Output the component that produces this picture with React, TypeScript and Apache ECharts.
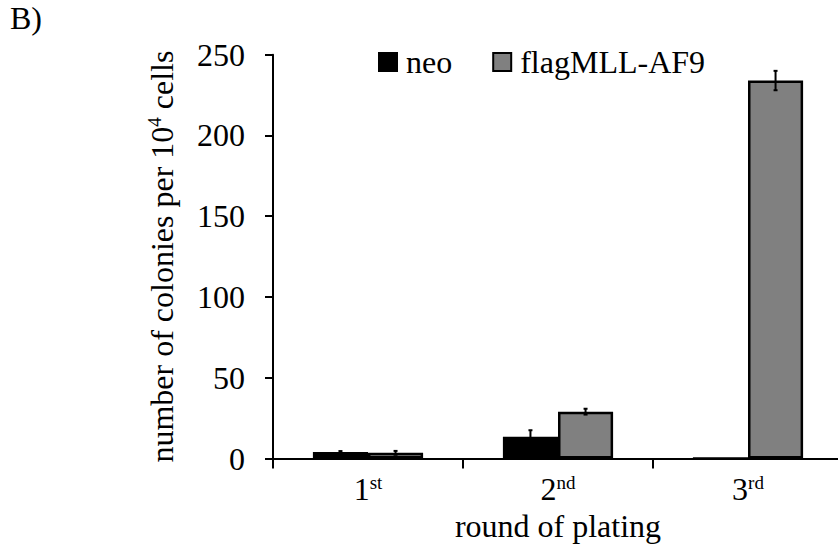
import React, { useEffect, useRef } from "react";
import * as echarts from "echarts";

const categories = ["1st", "2nd", "3rd"];
const seriesNames = ["neo", "flagMLL-AF9"];
const neoValues = [4, 13.5, 0];
const neoErrors = [0.6, 4, 0];
const mllValues = [3.5, 29, 234];
const mllErrors = [1.2, 1.8, 6];
const yTicks = { min: 0, max: 250, interval: 50 };

const FONT = "'Liberation Serif', 'Times New Roman', serif";
const FS = 32;
const SUP = 19;
const BAR_FRACTION = 0.29;

export default function App() {
  const ref = useRef<HTMLDivElement>(null);
  useEffect(() => {
    if (!ref.current) return;
    const chart = echarts.init(ref.current, null, { renderer: "svg" });

    const errData = (vals: number[], errs: number[]) =>
      vals.map((v, i) => [i, v, errs[i]]);

    const makeErr = (sign: number) => (params: any, api: any) => {
      const cat = api.value(0);
      const val = api.value(1);
      const err = api.value(2);
      if (!err) return null;
      const band = api.size([1, 0])[0];
      const dx = (sign * band * BAR_FRACTION) / 2;
      const top = api.coord([cat, val + err]);
      const bot = api.coord([cat, val - err]);
      const x = top[0] + dx;
      const style = { stroke: "#000", lineWidth: 2 };
      return {
        type: "group",
        children: [
          { type: "line", shape: { x1: x, y1: top[1], x2: x, y2: bot[1] }, style },
          { type: "line", shape: { x1: x - 2, y1: top[1], x2: x + 2, y2: top[1] }, style },
          { type: "line", shape: { x1: x - 2, y1: bot[1], x2: x + 2, y2: bot[1] }, style },
        ],
      };
    };

    const supRich = {
      sup: { fontSize: SUP, fontFamily: FONT, color: "#000", verticalAlign: "top", lineHeight: 33 },
    };

    chart.setOption({
      animation: false,
      textStyle: { fontFamily: FONT, color: "#000" },
      graphic: [
        {
          type: "text",
          left: 10,
          top: 2,
          style: { text: "B)", fontSize: FS, fontFamily: FONT, fill: "#000" },
        },
      ],
      legend: {
        left: 373,
        top: 41,
        itemWidth: 18,
        itemHeight: 18,
        itemGap: 40,
        icon: "rect",
        textStyle: { fontSize: FS, fontFamily: FONT, color: "#000", padding: [0, 0, 0, 4] },
        data: seriesNames,
      },
      grid: {
        left: 273,
        right: -5,
        top: 54.7,
        bottom: 88.5,
        containLabel: false,
        outerBoundsMode: "none",
      },
      xAxis: {
        type: "category",
        data: categories,
        boundaryGap: true,
        axisLine: { lineStyle: { color: "#000", width: 2 } },
        axisTick: { show: true, length: 10, lineStyle: { color: "#000", width: 2 } },
        axisLabel: {
          margin: 14,
          fontSize: FS,
          fontFamily: FONT,
          color: "#000",
          lineHeight: 33,
          formatter: (v: string) => v.replace(/^(\d+)(\D+)$/, "$1{sup|$2}"),
          rich: supRich,
        },
        name: "round of plating",
        nameLocation: "middle",
        nameGap: 51,
        nameTextStyle: { fontSize: FS, fontFamily: FONT, color: "#000" },
      },
      yAxis: {
        type: "value",
        min: yTicks.min,
        max: yTicks.max,
        interval: yTicks.interval,
        splitLine: { show: false },
        axisLine: { show: true, lineStyle: { color: "#000", width: 2 } },
        axisTick: { show: true, length: 8, lineStyle: { color: "#000", width: 2 } },
        axisLabel: { margin: 28, fontSize: FS, fontFamily: FONT, color: "#000" },
        name: "number of colonies per 10{sup|4} cells",
        nameLocation: "middle",
        nameGap: 95,
        nameTextStyle: {
          fontSize: FS,
          fontFamily: FONT,
          color: "#000",
          lineHeight: 33,
          rich: supRich,
        },
      },
      series: [
        {
          name: seriesNames[0],
          type: "bar",
          data: neoValues,
          barWidth: `${BAR_FRACTION * 100}%`,
          barGap: "0%",
          itemStyle: { color: "#000", borderColor: "#000", borderWidth: 2.5 },
        },
        {
          name: seriesNames[1],
          type: "bar",
          data: mllValues,
          barWidth: `${BAR_FRACTION * 100}%`,
          barGap: "0%",
          itemStyle: { color: "#808080", borderColor: "#000", borderWidth: 2.5 },
        },
        {
          type: "custom",
          renderItem: makeErr(-1),
          data: errData(neoValues, neoErrors),
          encode: { x: 0, y: 1 },
          z: 5,
          silent: true,
        },
        {
          type: "custom",
          renderItem: makeErr(1),
          data: errData(mllValues, mllErrors),
          encode: { x: 0, y: 1 },
          z: 5,
          silent: true,
        },
      ],
    });
    return () => chart.dispose();
  }, []);
  return (
    <div
      ref={ref}
      style={{ position: "absolute", left: 0, top: 0, width: 838, height: 547 }}
    />
  );
}
